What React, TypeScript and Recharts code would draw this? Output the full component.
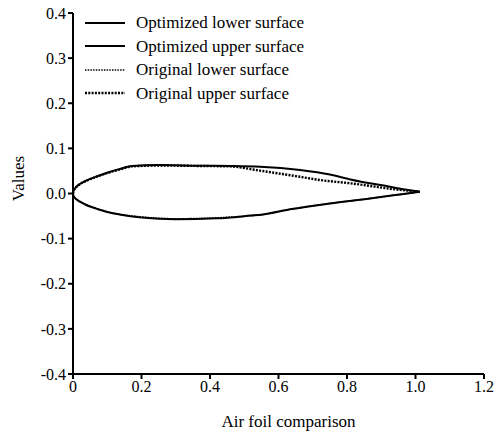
import React from 'react';
import { LineChart, Line, XAxis, YAxis, Label } from 'recharts';

const optLowerX = [0, 0.001, 0.004, 0.01, 0.02, 0.04, 0.07, 0.1, 0.14, 0.2, 0.3, 0.42, 0.52, 0.55, 0.634, 0.75, 0.867, 0.955, 1.013];
const optLowerY = [0, -0.004, -0.0082, -0.013, -0.018, -0.026, -0.034, -0.041, -0.047, -0.053, -0.057, -0.055, -0.049, -0.047, -0.035, -0.022, -0.011, -0.002, 0.004];

const optUpperX = [0, 0.001, 0.004, 0.01, 0.02, 0.04, 0.07, 0.1, 0.135, 0.172, 0.25, 0.37, 0.46, 0.546, 0.663, 0.75, 0.81, 0.925, 0.97, 1.013];
const optUpperY = [0, 0.0048, 0.0095, 0.015, 0.021, 0.029, 0.038, 0.046, 0.054, 0.061, 0.063, 0.0615, 0.061, 0.0594, 0.052, 0.042, 0.031, 0.015, 0.009, 0.004];

const origLowerX = [0, 0.001, 0.004, 0.01, 0.02, 0.04, 0.07, 0.1, 0.14, 0.2, 0.3, 0.42, 0.52, 0.55, 0.634, 0.75, 0.867, 0.955, 1.013];
const origLowerY = [0, -0.004, -0.008, -0.0128, -0.0178, -0.0255, -0.0335, -0.0405, -0.0465, -0.052, -0.056, -0.054, -0.049, -0.047, -0.035, -0.022, -0.011, -0.002, 0.004];

const origUpperX = [0, 0.001, 0.004, 0.01, 0.02, 0.04, 0.07, 0.1, 0.135, 0.172, 0.25, 0.37, 0.458, 0.546, 0.663, 0.72, 0.81, 0.955, 1.013];
const origUpperY = [0, 0.0046, 0.0092, 0.0145, 0.0205, 0.0285, 0.0375, 0.0455, 0.053, 0.06, 0.062, 0.061, 0.06, 0.0506, 0.037, 0.030, 0.0226, 0.008, 0.004];

const xTicks = [0, 0.2, 0.4, 0.6, 0.8, 1.0, 1.2];
const xTickLabels = ['0', '0.2', '0.4', '0.6', '0.8', '1.0', '1.2'];
const yTicks = [-0.4, -0.3, -0.2, -0.1, 0, 0.1, 0.2, 0.3, 0.4];
const yTickLabels = ['-0.4', '-0.3', '-0.2', '-0.1', '0.0', '0.1', '0.2', '0.3', '0.4'];

const seriesNames = ['Optimized lower surface', 'Optimized upper surface', 'Original lower surface', 'Original upper surface'];

const toPoints = (xs: number[], ys: number[]) => xs.map((x, i) => ({ x, y: ys[i] }));

const FONT = '"Liberation Serif", "Times New Roman", serif';

const seriesStyles = [
  { dash: undefined as string | undefined, width: 2 },
  { dash: undefined as string | undefined, width: 2 },
  { dash: '1.5 1.2', width: 1.6 },
  { dash: '2 1.3', width: 2.4 },
];

const LegendBox = () => (
  <div style={{ position: 'absolute', left: 85, top: 11, fontFamily: FONT, fontSize: 17, color: '#000', pointerEvents: 'none' }}>
    {seriesNames.map((n, i) => (
      <div key={n} style={{ display: 'flex', alignItems: 'center', height: 23.5 }}>
        <svg width={51} height={10} style={{ display: 'block' }}>
          <line x1={0} y1={5} x2={40} y2={5} stroke="#000" strokeWidth={seriesStyles[i].width} strokeDasharray={seriesStyles[i].dash} />
        </svg>
        <span style={{ lineHeight: '17px', whiteSpace: 'nowrap' }}>{n}</span>
      </div>
    ))}
  </div>
);

export default function App() {
  const data = [
    toPoints(optLowerX, optLowerY),
    toPoints(optUpperX, optUpperY),
    toPoints(origLowerX, origLowerY),
    toPoints(origUpperX, origUpperY),
  ];
  return (
    <div style={{ position: 'absolute', left: 0, top: 0, width: 501, height: 435, background: '#fff', fontFamily: FONT }}>
      <style>{`.recharts-wrapper text, .recharts-wrapper tspan { font-family: "Liberation Serif", "Times New Roman", serif !important; }`}</style>
      <LineChart width={501} height={435} margin={{ top: 13, right: 17, bottom: 0, left: 0 }} style={{ fontFamily: FONT }}>
        <XAxis
          type="number"
          dataKey="x"
          domain={[0, 1.2]}
          ticks={xTicks}
          tickFormatter={(v: number) => xTickLabels[xTicks.findIndex((t) => Math.abs(t - v) < 1e-9)]}
          axisLine={{ stroke: '#000', strokeWidth: 2 }}
          tickLine={{ stroke: '#000', strokeWidth: 2 }}
          tickSize={5}
          tick={{ fill: '#000', fontSize: 16, fontFamily: FONT }}
          height={61}
          allowDataOverflow
        >
          <Label value="Air foil comparison" position="insideBottom" offset={8} dx={10} style={{ fill: '#000', fontSize: 17, fontFamily: FONT }} />
        </XAxis>
        <YAxis
          type="number"
          dataKey="y"
          domain={[-0.4, 0.4]}
          ticks={yTicks}
          tickFormatter={(v: number) => yTickLabels[yTicks.findIndex((t) => Math.abs(t - v) < 1e-9)]}
          axisLine={{ stroke: '#000', strokeWidth: 2 }}
          tickLine={{ stroke: '#000', strokeWidth: 2 }}
          tickSize={5}
          tick={{ fill: '#000', fontSize: 16, fontFamily: FONT }}
          width={73}
          allowDataOverflow
        >
          <Label value="Values" angle={-90} position="insideLeft" offset={18} dy={-15} style={{ fill: '#000', fontSize: 17, fontFamily: FONT, textAnchor: 'middle' }} />
        </YAxis>
        {data.map((d, i) => (
          <Line
            key={seriesNames[i]}
            data={d}
            dataKey="y"
            name={seriesNames[i]}
            type="monotone"
            stroke="#000"
            strokeWidth={seriesStyles[i].width}
            strokeDasharray={seriesStyles[i].dash}
            dot={false}
            activeDot={false}
            isAnimationActive={false}
          />
        ))}
      </LineChart>
      <LegendBox />
    </div>
  );
}
